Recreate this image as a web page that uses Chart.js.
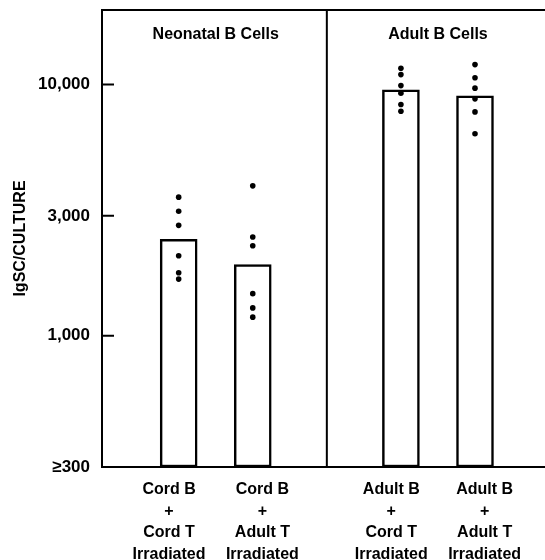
<!DOCTYPE html>
<html>
<head>
<meta charset="utf-8">
<script src="https://cdn.jsdelivr.net/npm/chart.js@4/dist/chart.umd.min.js"></script>
<style>
  html, body { margin: 0; padding: 0; background: #fff; overflow: hidden; }
  #wrap { width: 549px; height: 560px; }
</style>
</head>
<body>
<div id="wrap"><canvas id="chart"></canvas></div>
<script>
const categories = [
  ["Cord B", "+", "Cord T", "Irradiated"],
  ["Cord B", "+", "Adult T", "Irradiated"],
  ["Adult B", "+", "Cord T", "Irradiated"],
  ["Adult B", "+", "Adult T", "Irradiated"],
];
const groupTitles = ["Neonatal B Cells", "Adult B Cells"];
const barMeans = [2420, 1920, 9520, 9010];
const cordBCordT = [3560, 3130, 2750, 2080, 1780, 1680];
const cordBAdultT = [3950, 2470, 2280, 1470, 1290, 1185];
const adultBCordT = [11600, 10950, 9900, 9240, 8320, 7830];
const adultBAdultT = [12000, 10640, 9670, 8770, 7780, 6370];
const yTicks = [300, 1000, 3000, 10000];

const font = "'Liberation Sans', Arial, Helvetica, sans-serif";
const points = [cordBCordT, cordBAdultT, adultBCordT, adultBAdultT];

// two categories per group, one empty slot between the groups
const slotOf = (i) => i + 1 + (i >= 2 ? 1 : 0);
// labels sit a little apart from their bars, away from the group centre
const labelSlotOf = (i) => slotOf(i) + (i % 2 === 0 ? -0.13 : 0.13);
const dividerSlot = 3;

const tickLabel = (v) => (v === 300 ? "\u2265300" : v.toLocaleString("en-US"));

const panelPlugin = {
  id: "panels",
  afterDraw(chart) {
    const { ctx, chartArea } = chart;
    const x = chart.scales.x;
    const y = chart.scales.y;
    ctx.save();
    ctx.strokeStyle = "#000";
    ctx.lineWidth = 2;
    ctx.beginPath();
    ctx.moveTo(chartArea.left, chartArea.top);
    ctx.lineTo(chartArea.right, chartArea.top);
    const dx = x.getPixelForValue(dividerSlot);
    ctx.moveTo(dx, chartArea.top);
    ctx.lineTo(dx, chartArea.bottom);
    yTicks.slice(1).forEach((v) => {
      const py = y.getPixelForValue(v);
      ctx.moveTo(chartArea.left, py);
      ctx.lineTo(chartArea.left + 12, py);
    });
    ctx.stroke();

    ctx.fillStyle = "#000";
    ctx.font = "bold 16px " + font;
    ctx.textAlign = "center";
    ctx.textBaseline = "middle";
    groupTitles.forEach((t, g) => {
      const cx = x.getPixelForValue(slotOf(g * 2) + 0.5);
      ctx.fillText(t, cx, chartArea.top + 25);
    });
    ctx.restore();
  },
};

new Chart(document.getElementById("chart"), {
  data: {
    datasets: [
      ...points.map((vals, i) => ({
        type: "scatter",
        order: 0,
        data: vals.map((v) => ({ x: slotOf(i), y: v })),
        pointRadius: 2.8,
        pointBackgroundColor: "#000",
        pointBorderWidth: 0,
      })),
      {
        type: "bar",
        order: 1,
        data: barMeans.map((v, i) => ({ x: slotOf(i), y: [300, v] })),
        backgroundColor: "#fff",
        borderColor: "#000",
        borderWidth: 2.5,
        borderSkipped: false,
        barThickness: 37,
      },
    ],
  },
  options: {
    responsive: true,
    maintainAspectRatio: false,
    animation: false,
    layout: { padding: { top: 10, right: 0, left: 0, bottom: 0 } },
    plugins: { legend: { display: false }, tooltip: { enabled: false } },
    scales: {
      x: {
        type: "linear",
        offset: false,
        min: -0.035,
        max: 5.945,
        grid: { display: false, drawTicks: false, offset: false },
        border: { color: "#000", width: 2 },
        afterBuildTicks: (scale) => {
          scale.ticks = categories.map((_, i) => ({ value: labelSlotOf(i) }));
        },
        afterFit: (scale) => {
          scale.height = 93;
          scale.paddingLeft = 0;
          scale.paddingRight = 0;
        },
        ticks: {
          color: "#000",
          autoSkip: false,
          maxRotation: 0,
          padding: 12,
          font: { family: font, size: 16, weight: "bold", lineHeight: 1.35 },
          callback: (value) => {
            const i = categories.findIndex((_, k) => labelSlotOf(k) === value);
            return i >= 0 ? categories[i] : "";
          },
        },
      },
      y: {
        type: "logarithmic",
        min: 300,
        max: 19800,
        grid: { display: false, drawTicks: false },
        border: { color: "#000", width: 2 },
        afterBuildTicks: (scale) => {
          scale.ticks = yTicks.map((v) => ({ value: v }));
        },
        afterFit: (scale) => {
          scale.width = 102;
          scale.paddingTop = 0;
          scale.paddingBottom = 0;
        },
        ticks: {
          color: "#000",
          padding: 12,
          font: { family: font, size: 17, weight: "bold" },
          callback: (value) => tickLabel(value),
        },
        title: {
          display: true,
          text: "IgSC/CULTURE",
          color: "#000",
          padding: { top: 11, bottom: 0 },
          font: { family: font, size: 16, weight: "bold" },
        },
      },
    },
  },
  plugins: [panelPlugin],
});
</script>
</body>
</html>
